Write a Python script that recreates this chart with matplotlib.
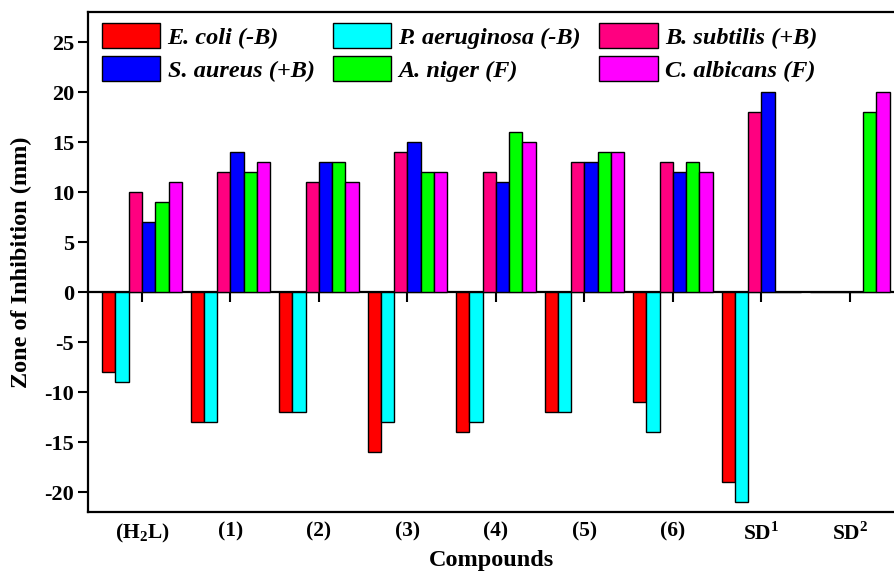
import numpy as np
import matplotlib
matplotlib.use("Agg")
import matplotlib.pyplot as plt
from matplotlib.patches import Patch

# data (mm)
compounds = ["(H$_2$L)", "(1)", "(2)", "(3)", "(4)", "(5)", "(6)", "SD$^1$", "SD$^2$"]
series_names = ["E. coli (-B)", "P. aeruginosa (-B)", "B. subtilis (+B)",
                "S. aureus (+B)", "A. niger (F)", "C. albicans (F)"]
e_coli = [-8, -13, -12, -16, -14, -12, -11, -19, 0]
p_aeruginosa = [-9, -13, -12, -13, -13, -12, -14, -21, 0]
b_subtilis = [10, 12, 11, 14, 12, 13, 13, 18, 0]
s_aureus = [7, 14, 13, 15, 11, 13, 12, 20, 0]
a_niger = [9, 12, 13, 12, 16, 14, 13, 0, 18]
c_albicans = [11, 13, 11, 12, 15, 14, 12, 0, 20]
colors = ["#FF0000", "#00FFFF", "#FF0080", "#0000FF", "#00FF00", "#FF00FF"]

plt.rcParams["font.family"] = ["Liberation Serif", "DejaVu Serif"]
plt.rcParams["font.weight"] = "bold"
plt.rcParams["axes.unicode_minus"] = False
plt.rcParams["mathtext.fontset"] = "custom"
plt.rcParams["mathtext.rm"] = "Liberation Serif:bold"
plt.rcParams["mathtext.bf"] = "Liberation Serif:bold"

fig = plt.figure(figsize=(8.95, 5.73), dpi=100)
ax = fig.add_axes([88 / 895, 61 / 573, 807 / 895, 500 / 573])

x = np.arange(len(compounds))
width = 0.15
all_series = [e_coli, p_aeruginosa, b_subtilis, s_aureus, a_niger, c_albicans]
for i, vals in enumerate(all_series):
    ax.bar(x + (i - 2.5) * width, vals, width, color=colors[i],
           edgecolor="black", linewidth=1.0, zorder=2)

ymin, ymax = -22, 28
ax.set_ylim(ymin, ymax)
ax.set_xlim(-0.61, 8.51)

ax.set_yticks(range(-20, 30, 5))
ax.tick_params(axis="y", direction="out", length=7, width=1.5, labelsize=16, pad=3)
ax.set_xticks(x)
ax.set_xticklabels(compounds, fontsize=15.5, fontweight="bold")
ax.tick_params(axis="x", length=0, pad=7)

for side in ["left", "top", "bottom"]:
    ax.spines[side].set_linewidth(1.6)
ax.spines["right"].set_visible(False)

# zero line with ticks (Origin-style axis at y=0)
zero_ax = ax.secondary_xaxis((0 - ymin) / (ymax - ymin))
zero_ax.set_xticks(x)
zero_ax.set_xticklabels([""] * len(x))
zero_ax.tick_params(direction="out", length=7, width=1.5)
zero_ax.spines["bottom"].set_linewidth(1.6)

ax.set_ylabel("Zone of Inhibition (mm)", fontsize=17.5, fontweight="bold", labelpad=9)
ax.set_xlabel("Compounds", fontsize=17.5, fontweight="bold", labelpad=4)

handles = [Patch(facecolor=c, edgecolor="black", linewidth=1.0, label=n)
           for c, n in zip(colors, series_names)]
order = [0, 3, 1, 4, 2, 5]
leg = ax.legend([handles[k] for k in order], [series_names[k] for k in order],
                ncol=3, loc="upper left", bbox_to_anchor=(14 / 807, 0.978), frameon=False,
                prop={"size": 17.5, "style": "italic", "weight": "bold"},
                handlelength=2.4, handleheight=1.2, columnspacing=0.75,
                handletextpad=0.3, labelspacing=0.3, borderaxespad=0, borderpad=0)

fig.savefig("out.png", dpi=100)
